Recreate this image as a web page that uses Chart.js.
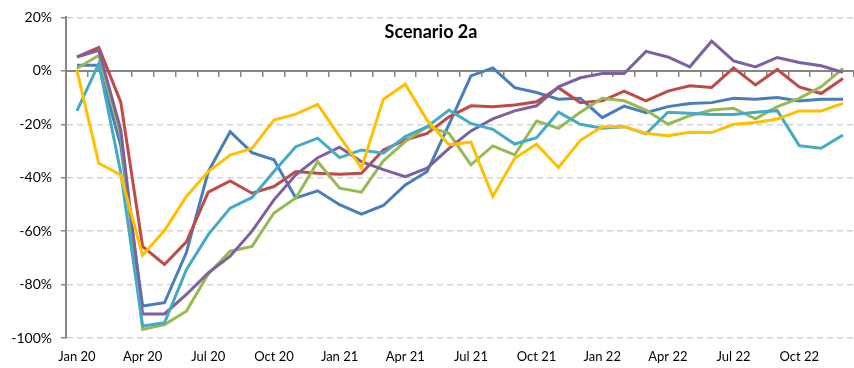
<!DOCTYPE html>
<html>
<head>
<meta charset="utf-8">
<script src="https://cdn.jsdelivr.net/npm/chart.js@4.4.1/dist/chart.umd.min.js"></script>
<style>
    html, body { margin: 0; padding: 0; background: #fff; }
    .chartSection { width: 854px; height: 368px; position: relative; }
</style>
</head>
<body>
<div class="chartSection"><canvas id="myChart"></canvas></div>
<script>
// Monthly change vs. baseline, Jan 2020 - Dec 2022 (%)
const months = [
    'Jan 20', 'Feb 20', 'Mar 20', 'Apr 20', 'May 20', 'Jun 20', 'Jul 20', 'Aug 20', 'Sep 20', 'Oct 20', 'Nov 20', 'Dec 20',
    'Jan 21', 'Feb 21', 'Mar 21', 'Apr 21', 'May 21', 'Jun 21', 'Jul 21', 'Aug 21', 'Sep 21', 'Oct 21', 'Nov 21', 'Dec 21',
    'Jan 22', 'Feb 22', 'Mar 22', 'Apr 22', 'May 22', 'Jun 22', 'Jul 22', 'Aug 22', 'Sep 22', 'Oct 22', 'Nov 22', 'Dec 22'
];

const blueValues = [2.1, 2.1, -28, -88, -86.8, -68, -37.7, -22.8, -30.6, -33.3, -47.6, -44.9,
    -50.1, -53.6, -50.4, -42.7, -37.7, -20, -1.9, 1.1, -6.3, -8.1, -10.6, -10.3,
    -17.5, -13.2, -15.7, -13.4, -12.2, -11.9, -10.3, -10.6, -10, -11.3, -10.6, -10.6];
const redValues = [5.2, 8.7, -11.6, -65.7, -72.5, -64, -45.4, -41.2, -45.8, -43.3, -37.7, -38.3,
    -38.7, -38.3, -29.6, -25.9, -23.4, -17.2, -13.1, -13.4, -12.8, -11.6, -6.3, -11.9,
    -11.2, -7.6, -11.2, -7.6, -5.6, -6.2, 1.1, -5.3, 0.5, -6, -8.5, -2.9];
const greenValues = [0.9, 5.8, -24, -96.8, -95, -90, -76, -67.5, -65.7, -53.2, -47.6, -34,
    -43.9, -45.4, -33.7, -26.5, -20.9, -23.4, -35.2, -28.1, -31.5, -18.8, -21.5, -15.5,
    -10.3, -11.2, -14.7, -20, -16.8, -14.7, -14, -18, -13.4, -10.3, -6, 0.9];
const purpleValues = [5.2, 7.7, -22, -91, -91, -83.7, -75.6, -69.4, -60, -48.3, -38.9, -32.5,
    -28.6, -34, -37, -39.6, -36.4, -29, -22.5, -18, -15, -13.1, -6, -2.6,
    -1, -1, 7.3, 5.2, 1.5, 11.1, 3.7, 1.5, 5, 3.1, 1.9, -0.6];
const cyanValues = [-15, 2.7, -38, -95.5, -94.3, -74.4, -61.3, -51.4, -47.4, -37.7, -28.4, -25.2,
    -32.5, -29.6, -30.8, -24.6, -20.9, -14.7, -19.7, -21.9, -27.4, -25, -15.5, -20,
    -21.5, -20.9, -23.6, -15.5, -15.9, -16.3, -16.3, -15.5, -14.9, -28, -29, -24];
const yellowValues = [0.2, -34.6, -39, -69, -59.8, -47, -37.7, -31.5, -29, -18.4, -16.2, -12.6,
    -24.5, -36.4, -10.6, -5, -18.5, -27.7, -26.7, -47, -32.7, -27.5, -36.2, -26,
    -20.9, -20.9, -23.4, -24.3, -23, -23.1, -20, -19.3, -18, -15, -15, -12.2];

const yTicks = [20, 0, -20, -40, -60, -80, -100];
const chartTitle = 'Scenario 2a';

const axisGray = '#868686';

function makeLine(data, color, order) {
    return {
        data: data,
        borderColor: color,
        backgroundColor: color,
        borderWidth: 3,
        pointRadius: 0,
        tension: 0,
        fill: false,
        order: order
    };
}

// title sits inside the plot area, so draw it by hand
const titlePlugin = {
    id: 'innerTitle',
    afterDraw(chart) {
        const ctx = chart.ctx;
        ctx.save();
        ctx.font = 'bold 18px Lato';
        ctx.fillStyle = '#000';
        ctx.textAlign = 'center';
        ctx.textBaseline = 'middle';
        ctx.fillText(chartTitle, 431, 32);
        ctx.restore();
    }
};

function runChart() {
    Chart.defaults.font.family = 'Lato';
    Chart.defaults.font.size = 13;
    Chart.defaults.color = '#000';

    let chart = document.getElementById('myChart').getContext('2d');

    let myChart = new Chart(chart, {
        type: 'line',
        data: {
            labels: months,
            datasets: [
                makeLine(blueValues, '#4A7EBB', 6),
                makeLine(redValues, '#BE4B48', 5),
                makeLine(greenValues, '#98B954', 4),
                makeLine(purpleValues, '#7D60A0', 3),
                makeLine(cyanValues, '#46AAC5', 2),
                makeLine(yellowValues, '#FFC000', 1)
            ]
        },
        options: {
            responsive: true,
            maintainAspectRatio: false,
            animation: false,
            layout: { padding: { top: 16, right: 0, bottom: 0, left: 0 } },
            plugins: {
                legend: { display: false },
                tooltip: { enabled: false },
                title: { display: false }
            },
            scales: {
                x: {
                    type: 'category',
                    position: 'bottom',
                    offset: true,
                    grid: { display: false, drawTicks: false },
                    border: { display: false },
                    ticks: {
                        autoSkip: false,
                        maxRotation: 0,
                        padding: 11,
                        callback: function (value, index) {
                            return index % 3 === 0 ? this.getLabelForValue(value) : '';
                        }
                    },
                    afterFit: function (scale) { scale.height = 30; }
                },
                // category axis drawn along the zero line
                x2: {
                    type: 'category',
                    position: { y: 0 },
                    offset: true,
                    grid: {
                        display: true,
                        drawOnChartArea: false,
                        drawTicks: true,
                        tickLength: 5,
                        offset: true,
                        color: axisGray,
                        lineWidth: 1.5
                    },
                    border: { display: true, color: axisGray, width: 2 },
                    ticks: { display: false }
                },
                y: {
                    position: 'left',
                    min: -100,
                    max: 20,
                    afterBuildTicks: function (scale) {
                        scale.ticks = yTicks.map(v => ({ value: v }));
                    },
                    grid: {
                        color: ctx => (ctx.tick && ctx.tick.value === 0) ? 'rgba(0,0,0,0)' : '#d4d4d4',
                        lineWidth: 1.5,
                        drawTicks: true,
                        tickLength: 5,
                        tickColor: axisGray,
                        tickWidth: 1.5
                    },
                    border: { display: true, color: axisGray, width: 2, dash: [6, 4] },
                    ticks: {
                        padding: 9,
                        font: { size: 14 },
                        callback: value => value + '%'
                    },
                    afterFit: function (scale) { scale.width = 66; }
                }
            }
        },
        plugins: [titlePlugin]
    });
}

if (document.fonts && document.fonts.load) {
    Promise.all([
        document.fonts.load('13px Lato'),
        document.fonts.load('bold 18px Lato')
    ]).then(runChart, runChart);
} else {
    runChart();
}
</script>
</body>
</html>
